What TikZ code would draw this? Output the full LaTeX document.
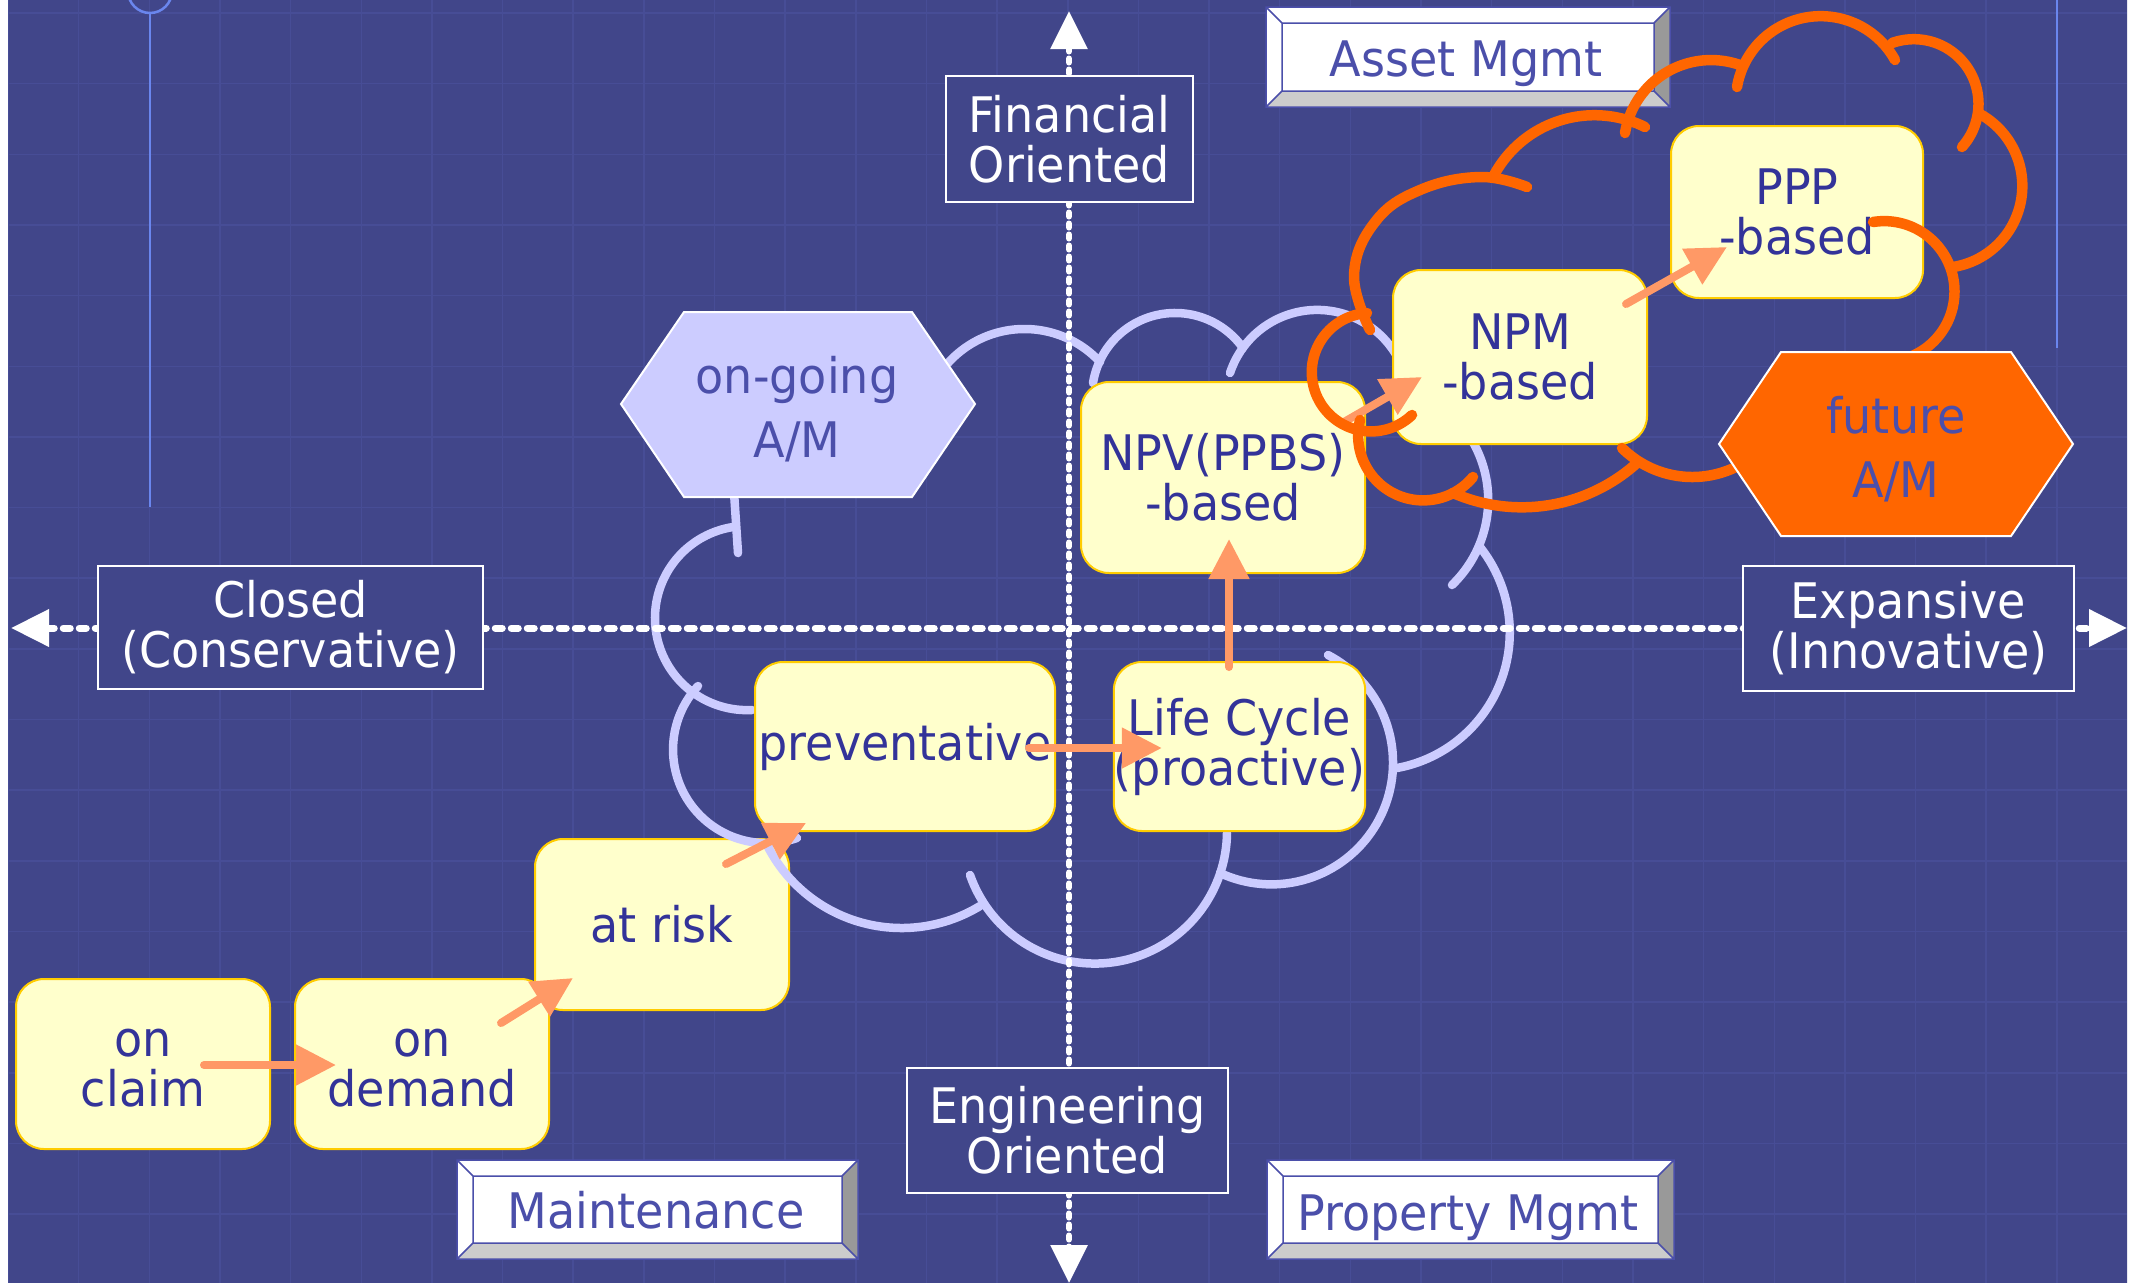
\documentclass[tikz,border=0pt]{standalone}
\usepackage{fontspec}
\setmainfont[FakeStretch=0.94]{DejaVu Sans}
\usetikzlibrary{arrows.meta,calc}

\definecolor{bg}{HTML}{41468A}
\definecolor{gridc}{HTML}{474D96}
\definecolor{deco}{HTML}{6A86EE}
\definecolor{lav}{HTML}{CCCCFF}
\definecolor{org}{HTML}{FF6600}
\definecolor{salmon}{HTML}{FF9966}
\definecolor{ylw}{HTML}{FFFFCC}
\definecolor{gold}{HTML}{FFCC00}
\definecolor{ink}{HTML}{333399}
\definecolor{inkl}{HTML}{4B4FAA}
\definecolor{bevlite}{HTML}{CCCCCC}
\definecolor{bevdark}{HTML}{999999}

% bevelled label plate: name, x1, y1, x2, y2, baseline x, baseline y, text
\newcommand{\bevelplate}[8]{%
  \fill[white] (#2,#3) rectangle (#4,#5);
  \fill[bevlite] (#2,#5) -- (#4,#5) -- ({#4-16},{#5-16}) -- ({#2+16},{#5-16}) -- cycle;
  \fill[bevdark] (#4,#3) -- (#4,#5) -- ({#4-16},{#5-16}) -- ({#4-16},{#3+16}) -- cycle;
  \draw[inkl, line width=1.5pt] (#2,#3) rectangle (#4,#5)
    ({#2+16},{#3+16}) rectangle ({#4-16},{#5-16})
    (#2,#3) -- ({#2+16},{#3+16}) (#4,#3) -- ({#4-16},{#3+16})
    (#4,#5) -- ({#4-16},{#5-16}) (#2,#5) -- ({#2+16},{#5-16});
  \node[platelabel, anchor=base] (#1) at (#6,#7) {#8};
}

% one scallop of a cloud outline: circular arc from the first point,
% through the second, to the third (style, x1, y1, x2, y2, x3, y3)
\newcommand{\cloudarc}[7]{%
  \pgfmathsetmacro{\cax}{(#4-#2)/100}%
  \pgfmathsetmacro{\cay}{(#5-#3)/100}%
  \pgfmathsetmacro{\cbx}{(#6-#2)/100}%
  \pgfmathsetmacro{\cby}{(#7-#3)/100}%
  \pgfmathsetmacro{\caa}{(\cax)*(\cax)+(\cay)*(\cay)}%
  \pgfmathsetmacro{\cbb}{(\cbx)*(\cbx)+(\cby)*(\cby)}%
  \pgfmathsetmacro{\cdd}{2*((\cax)*(\cby)-(\cay)*(\cbx))}%
  \pgfmathsetmacro{\cux}{((\cby)*(\caa)-(\cay)*(\cbb))/(\cdd)}%
  \pgfmathsetmacro{\cuy}{((\cax)*(\cbb)-(\cbx)*(\caa))/(\cdd)}%
  \pgfmathsetmacro{\crad}{100*sqrt((\cux)*(\cux)+(\cuy)*(\cuy))}%
  \pgfmathsetmacro{\ccx}{#2+100*(\cux)}%
  \pgfmathsetmacro{\ccy}{#3+100*(\cuy)}%
  \pgfmathsetmacro{\cone}{atan2(-(\cuy),-(\cux))}%
  \pgfmathsetmacro{\ctwo}{Mod(atan2((\cay)-(\cuy),(\cax)-(\cux))-(\cone),360)}%
  \pgfmathsetmacro{\cthree}{Mod(atan2((\cby)-(\cuy),(\cbx)-(\cux))-(\cone),360)}%
  \pgfmathsetmacro{\csweep}{ifthenelse((\ctwo)<(\cthree),\cthree,(\cthree)-360)}%
  \pgfmathsetmacro{\clo}{min(\cone,(\cone)+(\csweep))}%
  \pgfmathsetmacro{\chi}{max(\cone,(\cone)+(\csweep))}%
  \draw[#1] plot[domain=\clo:\chi, samples=72, variable=\t]
    ({\ccx+\crad*cos(\t)},{\ccy+\crad*sin(\t)});
}

\tikzset{
  ybox/.style={rectangle, rounded corners=28pt, fill=ylw, draw=gold, line width=2pt,
    text=ink, align=center, inner sep=0pt, font=\fontsize{49}{50}\selectfont},
  axlabel/.style={rectangle, draw=white, line width=2pt, fill=bg, text=white,
    align=center, inner sep=0pt, font=\fontsize{49}{50}\selectfont},
  axisline/.style={white, line cap=round,
    {Triangle[length=38pt,width=36pt]}-{Triangle[length=38pt,width=36pt]}},
  flow/.style={salmon, line width=8pt, line cap=round, -{Triangle[length=40pt,width=39pt]}},
  lavcloud/.style={lav, line width=8.5pt, line cap=round},
  orgcloud/.style={org, line width=10.5pt, line cap=round},
  hexlabel/.style={text=inkl, align=center, font=\fontsize{49}{64}\selectfont},
  platelabel/.style={text=inkl, inner sep=0pt, font=\fontsize{49}{50}\selectfont},
}

\begin{document}
\begin{tikzpicture}[x=1pt,y=-1pt]
\useasboundingbox (0,0) rectangle (2140,1283);
\fill[white] (0,0) rectangle (2140,1283);
\fill[bg] (8,0) rectangle (2127,1283);

% faint blueprint grid
\begin{scope}
  \clip (8,0) rectangle (2127,1283);
  \foreach \i in {0,...,30}
    \draw[gridc, line width=1.5pt] ({8+70.65*\i},0) -- ({8+70.65*\i},1283);
  \foreach \j in {0,...,18}
    \draw[gridc, line width=1.5pt] (8,{13+70.65*\j}) -- (2127,{13+70.65*\j});
  % thin ornament rules
  \draw[deco, line width=2.5pt] (150,-9) circle[radius=22];
  \draw[deco, line width=2.5pt] (150,13) -- (150,507);
  \draw[deco, line width=2.5pt] (2057,0) -- (2057,348);
\end{scope}

% lower steps
\node[ybox, minimum width=254pt, minimum height=170pt] (claim) at (143,1064) {\vphantom{A}on\\claim};
\node[ybox, minimum width=254pt, minimum height=170pt] (demand) at (422,1064) {\vphantom{A}on\\demand};
\node[ybox, minimum width=254pt, minimum height=171pt] (risk) at (662,924.5) {at risk};

% lavender cloud (on-going asset management)
\draw[lavcloud] (738,553) -- (734,492);
\cloudarc{lavcloud}{733}{527}{655}{620}{752}{710}
\cloudarc{lavcloud}{698}{686}{676}{773}{797}{838}
\cloudarc{lavcloud}{768}{847}{903}{928}{980}{906}
\cloudarc{lavcloud}{970}{875}{1107}{963}{1227}{833}
\cloudarc{lavcloud}{1328}{655}{1393}{760}{1220}{873}
\cloudarc{lavcloud}{1397}{768}{1507}{660}{1480}{547}
\cloudarc{lavcloud}{1452}{585}{1488}{507}{1440}{405}
\cloudarc{lavcloud}{1230}{373}{1313}{310}{1400}{362}
\cloudarc{lavcloud}{1093}{383}{1173}{313}{1243}{348}
\cloudarc{lavcloud}{948}{363}{1023}{329}{1100}{362}

% axes
\coordinate (xl) at (11,628);
\coordinate (xr) at (2127,628);
\coordinate (yt) at (1069,11);
\coordinate (yb) at (1069,1283);
\draw[axisline, line width=7pt, dash pattern=on 7pt off 9pt] (xl) -- (xr);
\draw[axisline, line width=6pt, dash pattern=on 4pt off 7pt] (yt) -- (yb);

\node[axlabel, minimum width=247pt, minimum height=126pt] (fin) at (1069.5,139) {\vphantom{A}Financial\\Oriented};
\node[axlabel, minimum width=321pt, minimum height=125pt] (eng) at (1067.5,1130.5) {\vphantom{A}Engineering\\Oriented};
\node[axlabel, minimum width=385pt, minimum height=123pt] (closed) at (290.5,627.5) {\vphantom{A}Closed\\(Conservative)};
\node[axlabel, minimum width=331pt, minimum height=125pt] (expan) at (1908.5,628.5) {\vphantom{A}Expansive\\(Innovative)};

% quadrant plates
\bevelplate{asset}{1266}{7}{1670}{107}{1466}{76}{Asset Mgmt}
\bevelplate{maint}{457}{1160}{858}{1259}{656}{1228}{Maintenance}
\bevelplate{prop}{1267}{1160}{1674}{1259}{1468}{1230}{Property Mgmt}

% upper steps
\node[ybox, minimum width=300pt, minimum height=169pt] (prev) at (905,746.5) {preventative};
\node[ybox, minimum width=251pt, minimum height=169pt] (life) at (1239.5,746.5) {\vphantom{A}Life Cycle\\(proactive)};
\node[ybox, minimum width=284pt, minimum height=191pt] (npv) at (1223,477.5) {\vphantom{A}NPV(PPBS)\\-based};
\node[ybox, minimum width=254pt, minimum height=174pt] (npm) at (1520,357) {\vphantom{A}NPM\\-based};
\node[ybox, minimum width=252pt, minimum height=172pt] (ppp) at (1797,212) {\vphantom{A}PPP\\-based};

% progression arrows
\draw[flow] ($(claim.east)+(-67,1)$) -- ($(demand.west)+(42,1)$);
\draw[flow] ($(demand.center)+(79,-41)$) -- ($(risk.south west)+(39,-33)$);
\draw[flow] ($(risk.north east)+(-64,26)$) -- ($(prev.south west)+(52,-9)$);
\draw[flow] ($(prev.east)+(-27,1.5)$) -- ($(life.west)+(49,1.5)$);
\draw[flow] ($(life.north)+(-10.5,6)$) -- ($(npv.south)+(6,-35)$);
\draw[flow] ($(npv.north east)+(-22,41)$) -- ($(npm.west)+(30,20)$);
\draw[flow] ($(npm.north east)+(-22,35)$) -- ($(ppp.south west)+(57,-52)$);

% orange cloud (future asset management)
\cloudarc{orgcloud}{1493}{177}{1553}{123}{1645}{127}
\cloudarc{orgcloud}{1625}{133}{1667}{72}{1740}{65}
\cloudarc{orgcloud}{1737}{87}{1783}{25}{1895}{60}
\cloudarc{orgcloud}{1892}{43}{1977}{90}{1962}{147}
\cloudarc{orgcloud}{1978}{113}{2022}{193}{1953}{267}
\cloudarc{orgcloud}{1873}{222}{1953}{277}{1900}{360}
\cloudarc{orgcloud}{1745}{462}{1693}{477}{1622}{448}
\cloudarc{orgcloud}{1637}{463}{1560}{503}{1453}{493}
\cloudarc{orgcloud}{1473}{477}{1393}{493}{1360}{420}
\cloudarc{orgcloud}{1412}{415}{1312}{367}{1367}{313}
\draw[orgcloud] plot[smooth, tension=0.7] coordinates {(1370,330) (1354,275) (1375,222) (1420,190) (1480,177) (1527,187)};

% stage hexagons
\path[fill=lav, draw=white, line width=2pt] (621,404) -- (684,312) -- (912,312) -- (975,404) -- (912,497) -- (684,497) -- cycle;
\node[hexlabel] (ongoing) at (797,409) {on-going\\A/M};
\path[fill=org, draw=white, line width=2pt] (1719,444) -- (1781,352) -- (2011,352) -- (2073,444) -- (2011,536) -- (1781,536) -- cycle;
\node[hexlabel] (future) at (1896,449) {future\\A/M};
\end{tikzpicture}
\end{document}
